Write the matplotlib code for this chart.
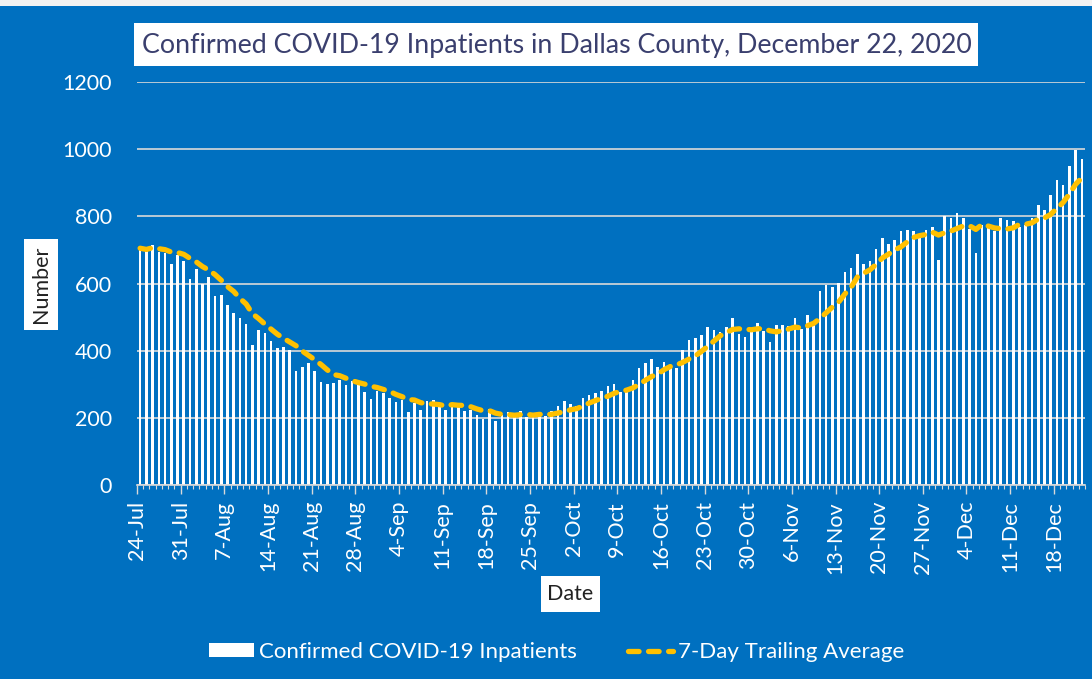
import numpy as np
import pandas as pd
import matplotlib
matplotlib.use("Agg")
import matplotlib.pyplot as plt
from matplotlib.patches import Rectangle, Patch
from matplotlib.lines import Line2D

# daily confirmed COVID-19 inpatients, 24-Jul .. 22-Dec 2020
inpatients = [
    705, 698, 716, 695, 690, 657, 685, 667, 614, 642,
    598, 618, 563, 567, 535, 512, 497, 480, 417, 461,
    452, 429, 407, 412, 403, 338, 351, 362, 338, 308,
    300, 305, 314, 298, 310, 300, 276, 255, 279, 273,
    259, 247, 252, 216, 245, 224, 250, 254, 234, 224,
    244, 232, 221, 223, 207, 197, 226, 191, 207, 218,
    208, 220, 203, 209, 207, 205, 221, 235, 250, 240,
    234, 260, 268, 273, 281, 295, 300, 276, 284, 314,
    348, 364, 374, 352, 367, 350, 347, 402, 433, 438,
    448, 470, 462, 457, 470, 497, 451, 440, 459, 482,
    459, 426, 475, 477, 474, 498, 464, 506, 476, 577,
    597, 591, 601, 635, 645, 688, 657, 666, 704, 735,
    717, 731, 755, 760, 757, 743, 758, 768, 669, 802,
    796, 811, 796, 761, 692, 775, 766, 757, 796, 789,
    785, 767, 775, 796, 835, 819, 864, 908, 893, 951,
    999, 970,
]
tick_labels = ["24-Jul", "31-Jul", "7-Aug", "14-Aug", "21-Aug", "28-Aug",
               "4-Sep", "11-Sep", "18-Sep", "25-Sep", "2-Oct", "9-Oct",
               "16-Oct", "23-Oct", "30-Oct", "6-Nov", "13-Nov", "20-Nov",
               "27-Nov", "4-Dec", "11-Dec", "18-Dec"]
y_ticks = [0, 200, 400, 600, 800, 1000, 1200]

# 7 day trailing average of the daily counts
avg7 = pd.Series(inpatients).rolling(7, min_periods=1).mean()

BLUE = "#0070C0"
GOLD = "#FFC000"
GRID = "#D9D9D9"
plt.rcParams["font.family"] = ["Lato", "DejaVu Sans"]

W, H = 1092, 679
fig = plt.figure(figsize=(W / 100, H / 100), dpi=100, facecolor=BLUE)
ax = fig.add_axes([137 / W, 1 - 485 / H, (1085 - 137) / W, (485 - 82) / H])
ax.set_facecolor(BLUE)

n = len(inpatients)
x = np.arange(n)
ax.bar(x, inpatients, width=0.42, color="white", zorder=3)
ax.plot(x, avg7, color=GOLD, lw=3.8, dashes=(2, 1.8),
        dash_capstyle="round", zorder=4)

ax.set_xlim(-0.5, n - 0.5)
ax.set_ylim(0, 1200)
ax.set_yticks(y_ticks)
ax.grid(axis="y", color=GRID, lw=1.2, zorder=0)
ax.set_axisbelow(True)

ax.set_xticks(np.arange(0, n, 7)[:len(tick_labels)] - 0.5)
ax.set_xticklabels(tick_labels, rotation=90, va="top", ha="center")
ax.set_xticks(np.arange(n + 1) - 0.5, minor=True)

for s in ["top", "right", "left"]:
    ax.spines[s].set_visible(False)
ax.spines["bottom"].set_color(GRID)
ax.spines["bottom"].set_linewidth(1.2)
ax.spines["bottom"].set_zorder(5)

ax.tick_params(axis="x", which="major", length=6.5, width=1, color=GRID,
               labelcolor="white", labelsize=15.5, pad=5)
ax.tick_params(axis="x", which="minor", length=3, width=0.8, color=GRID)
ax.tick_params(axis="y", length=0, labelcolor="white", labelsize=15.5, pad=18)

# white boxes for title and axis titles
def box(x0, y0, x1, y1):
    fig.patches.append(Rectangle((x0 / W, 1 - y1 / H), (x1 - x0) / W, (y1 - y0) / H,
                                 transform=fig.transFigure, fc="white", ec="none"))

box(134, 23, 978, 66)
fig.text(557 / W, 1 - 45 / H, "Confirmed COVID-19 Inpatients in Dallas County, December 22, 2020",
         ha="center", va="center", fontsize=19.3, color="#3A3F6E")
box(24, 239, 58, 330)
fig.text(41 / W, 1 - 284.5 / H, "Number", rotation=90, ha="center", va="center",
         fontsize=15.5, color="#222222")
box(541, 576, 600, 612)
fig.text(570.5 / W, 1 - 594 / H, "Date", ha="center", va="center",
         fontsize=15.5, color="#222222")

# thin light strip along the top edge
fig.patches.append(Rectangle((0, 1 - 6 / H), 1, 6 / H, transform=fig.transFigure,
                             fc="#F2F2F2", ec="none"))

handles = [Patch(fc="white", ec="none", label="Confirmed COVID-19 Inpatients"),
           Line2D([], [], color=GOLD, lw=3.8, dashes=(2, 1.8), dash_capstyle="round",
                  label="7-Day Trailing Average")]
fig.legend(handles=handles, loc="center", bbox_to_anchor=(557 / W, 1 - 652 / H),
           ncol=2, frameon=False, fontsize=16, labelcolor="white",
           handlelength=2.0, handleheight=0.6, handletextpad=0.25, columnspacing=2.3)

fig.savefig("out.png", dpi=100, facecolor=BLUE)
